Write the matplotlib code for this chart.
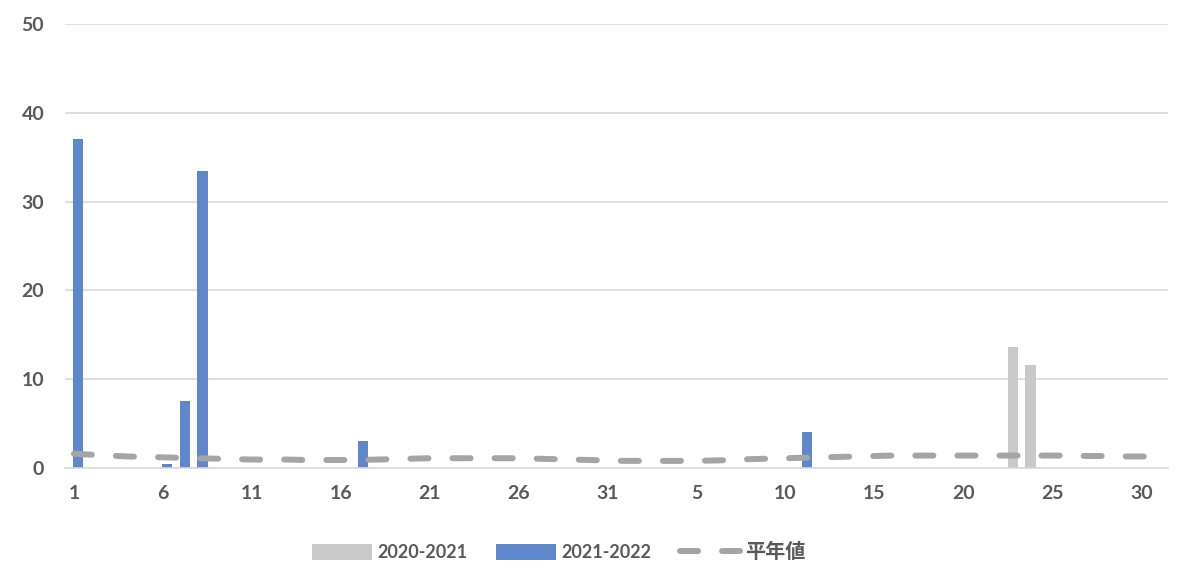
import matplotlib
matplotlib.use("Agg")
import matplotlib.pyplot as plt
import numpy as np

plt.rcParams['font.family'] = ['Lato', 'Noto Sans CJK JP', 'DejaVu Sans']
plt.rcParams['lines.scale_dashes'] = False

# categories: day of month, two consecutive 31-day months
days = list(range(1, 32)) + list(range(1, 32))
tick_labels = ['1', '6', '11', '16', '21', '26', '31', '5', '10', '15', '20', '25', '30']

# 2021-2022 values (index -> value), zeros elsewhere
s2122 = [0.0] * 62
s2122_idx = [0, 5, 6, 7, 16, 41]
s2122_val = [37.0, 0.4, 7.5, 33.5, 3.0, 4.0]
for i, v in zip(s2122_idx, s2122_val):
    s2122[i] = v

s2021 = [0.0] * 62
s2021_idx = [53, 54]
s2021_val = [13.6, 11.6]
for i, v in zip(s2021_idx, s2021_val):
    s2021[i] = v

normal = [1.6, 1.5, 1.4, 1.3, 1.25,
          1.2, 1.15, 1.1, 1.05, 1.0,
          0.95, 0.95, 0.95, 0.9, 0.9,
          0.9, 0.9, 0.95, 1.0, 1.05,
          1.1, 1.1, 1.1, 1.1, 1.1,
          1.1, 1.05, 1.0, 0.95, 0.9,
          0.85, 0.8, 0.8, 0.8, 0.8,
          0.8, 0.85, 0.9, 1.0, 1.05,
          1.1, 1.15, 1.2, 1.25, 1.3,
          1.35, 1.4, 1.4, 1.4, 1.4,
          1.4, 1.4, 1.4, 1.4, 1.4,
          1.4, 1.4, 1.35, 1.35, 1.3,
          1.3, 1.3]

text_color = '#595959'
grid_color = '#D9D9D9'
blue = '#5F87CB'
gray_bar = '#C9C9C9'
line_gray = '#A5A5A5'

fig = plt.figure(figsize=(11.91, 5.70), dpi=100)
ax = fig.add_axes([65/1191, 102/570, (1168-65)/1191, (468-24)/570])

x = np.arange(len(days))
bw = 0.57
b1 = ax.bar(x - 0.23, s2021, width=bw, color=gray_bar, label='2020-2021', zorder=2)
b2 = ax.bar(x + 0.23, s2122, width=bw, color=blue, label='2021-2022', zorder=2)
line, = ax.plot(x, normal, color=line_gray, lw=4.3, solid_capstyle='round',
                dash_capstyle='round', label='平年値', zorder=3)
line.set_dashes((13, 17.3))

ax.set_xlim(-0.5, 61.5)
ax.set_ylim(0, 50)
ax.set_yticks(range(0, 51, 10))
ax.set_xticks(x[::5])
ax.set_xticklabels(tick_labels)
ax.yaxis.grid(True, color=grid_color, lw=1.2, zorder=0)
ax.set_axisbelow(True)
for side in ['left', 'right', 'top']:
    ax.spines[side].set_visible(False)
ax.spines['bottom'].set_color(grid_color)
ax.spines['bottom'].set_linewidth(1.2)
ax.tick_params(axis='both', length=0, labelsize=14, labelcolor=text_color)
ax.tick_params(axis='y', pad=15)
ax.tick_params(axis='x', pad=12)
for lab in ax.get_xticklabels() + ax.get_yticklabels():
    lab.set_fontweight('bold')

leg = fig.legend(handles=[b1, b2, line], labels=['2020-2021', '2021-2022', '平年値'],
                 loc='center', bbox_to_anchor=(559/1191, 1 - 552/570), ncol=3,
                 frameon=False, handlelength=3.3, handleheight=0.95,
                 handletextpad=0.3, columnspacing=1.6,
                 prop={'size': 13, 'weight': 'bold'})
for t in leg.get_texts():
    t.set_color(text_color)
leg.get_texts()[2].set_fontsize(14.5)

fig.savefig('out.png', dpi=100)
